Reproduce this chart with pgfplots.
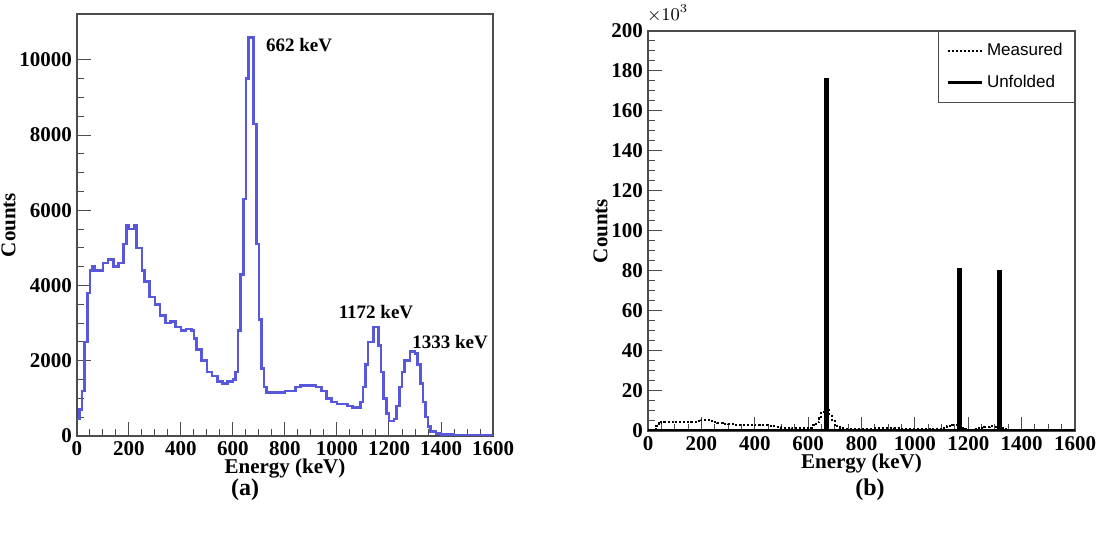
\documentclass[border=0pt]{standalone}
\usepackage{pgfplots}
\usepackage{pgfplotstable}
\pgfplotsset{compat=1.18}
\usepackage{fontspec}
\setmainfont{Liberation Serif}
\newfontfamily\sansf{Liberation Sans}
\definecolor{specblue}{RGB}{88,88,220}
\pgfplotstableread{
e c
0 450
10 700
20 1200
30 2500
40 3800
50 4400
60 4500
70 4400
80 4400
100 4600
120 4700
140 4500
160 4600
180 5100
190 5600
200 5500
220 5600
230 5000
250 4400
260 4100
280 3700
300 3500
320 3200
340 3000
360 3050
380 2900
400 2800
420 2850
440 2800
450 2600
460 2300
480 2000
500 1700
520 1600
540 1450
560 1400
580 1450
600 1500
610 1700
620 2800
630 4300
640 6300
650 9500
660 10600
680 8300
690 5100
700 3100
710 1800
720 1300
730 1150
760 1150
800 1200
840 1300
860 1350
900 1350
920 1300
940 1200
960 1000
980 900
1000 850
1040 800
1060 750
1090 900
1100 1300
1110 1900
1120 2500
1140 2900
1160 2400
1170 1700
1180 1000
1190 600
1200 400
1220 450
1230 800
1240 1300
1250 1700
1260 2000
1280 2250
1300 2200
1310 1900
1320 1400
1330 900
1340 500
1350 250
1360 120
1380 70
1400 40
1450 20
1500 10
1600 10
}\spec
\pgfplotstableread{
e c
0 0.3
300 0.2
663 0.3
665 176
672 0.3
1162 81
1172 0.3
1312 80
1321 0.3
1600 0.3
}\unf
\pgfplotsset{root/.style={
  scale only axis, axis line style={line width=0.8pt,black!70},
  tick align=inside, tick style={black!70,line width=0.5pt},
  major tick length=7pt, minor tick length=3.5pt,
  xtick pos=bottom, ytick pos=left,
  xmin=0, xmax=1600, xtick={0,200,...,1600}, minor x tick num=3,
  tick label style={font=\fontsize{10.5}{12}\selectfont\bfseries},
  label style={font=\fontsize{10.5}{12}\selectfont\bfseries},
  xlabel={Energy (keV)}, ylabel={Counts},
  xlabel style={yshift=5pt}, ylabel style={yshift=-5pt},
  xticklabel style={yshift=1pt},
  /pgf/number format/assume math mode=true,
  scaled ticks=false,
  yticklabel style={/pgf/number format/1000 sep={}, xshift=1pt},
  xticklabel style={/pgf/number format/1000 sep={}},
}}
\begin{document}
\begin{tikzpicture}
\path[use as bounding box] (0,0) rectangle (549pt,278pt);
\begin{axis}[root, at={(38.5pt,60pt)}, anchor=origin,
  width=208pt, height=211pt, ymin=0, ymax=11220,
  ytick={0,2000,...,10000}, minor y tick num=3]
\addplot[const plot, specblue, line width=1.3pt] table[x=e,y=c] {\spec};
\node[font=\fontsize{9.5}{10}\selectfont\bfseries, anchor=west] at (axis cs:700,10400) {662 keV};
\node[font=\fontsize{9.5}{10}\selectfont\bfseries] at (axis cs:1150,3300) {1172 keV};
\node[font=\fontsize{9.5}{10}\selectfont\bfseries] at (axis cs:1435,2500) {1333 keV};
\end{axis}
\begin{axis}[root, at={(324pt,62.5pt)}, anchor=origin,
  width=213.5pt, height=200pt, ymin=0, ymax=200,
  ytick={0,20,...,200}, minor y tick num=3,
  legend style={at={(1,1)}, anchor=north east, font=\sansf\fontsize{8.5}{10}\selectfont,
    draw=black!70, row sep=4pt, inner xsep=4pt, inner ysep=4pt},
  legend cell align=left]
\addplot[const plot, black, densely dotted, line width=1pt] table[x=e,y expr=\thisrow{c}/1000] {\spec};
\addlegendentry{Measured}
\addplot[const plot, black, line width=1.3pt] table[x=e,y=c] {\unf};
\addlegendentry{Unfolded}
\end{axis}
\node[font=\fontsize{9}{10}\selectfont, anchor=north west] at (320pt,279pt) {$\times10^{3}$};
\node[font=\fontsize{12}{14}\selectfont\bfseries] at (122.5pt,33pt) {(a)};
\node[font=\fontsize{12}{14}\selectfont\bfseries] at (435pt,33pt) {(b)};
\end{tikzpicture}
\end{document}
